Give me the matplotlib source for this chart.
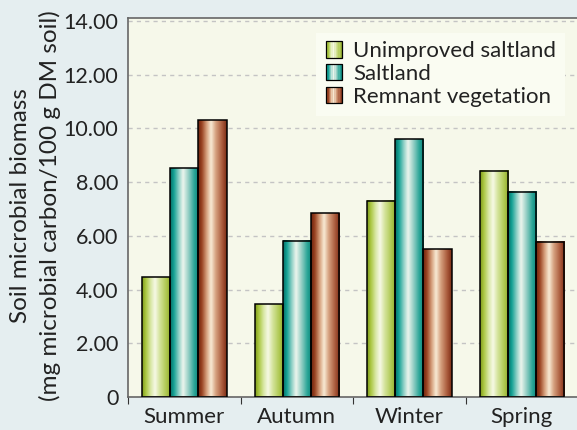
import numpy as np
import matplotlib
matplotlib.use("Agg")
from matplotlib import pyplot as plt
from matplotlib.colors import LinearSegmentedColormap
from matplotlib.patches import Rectangle
from matplotlib.legend_handler import HandlerBase

plt.rcParams["font.family"] = ["Lato", "DejaVu Sans"]

seasons = ["Summer", "Autumn", "Winter", "Spring"]
series = ["Unimproved saltland", "Saltland", "Remnant vegetation"]
unimproved = [4.46, 3.45, 7.31, 8.43]
saltland = [8.53, 5.82, 9.60, 7.65]
remnant = [10.31, 6.84, 5.50, 5.78]
yticks = [0, 2, 4, 6, 8, 10, 12, 14]
ytick_labels = ["0", "2.00", "4.00", "6.00", "8.00", "10.00", "12.00", "14.00"]

# cylinder-like shading: dark edge, light highlight left of centre
shades = {
    "Unimproved saltland": ["#7f9a1c", "#a9c63f", "#d9e8a6", "#f7f9e6", "#d3e39a", "#aec850", "#8ea82a"],
    "Saltland": ["#0b6e66", "#10a093", "#8fd0c6", "#eef6ee", "#9fd3c9", "#2aa597", "#0b857a"],
    "Remnant vegetation": ["#6e2410", "#98401f", "#d7a27f", "#f9ecd6", "#d5a07e", "#a8583a", "#7c2e16"],
}
stops = [0.0, 0.12, 0.3, 0.45, 0.62, 0.85, 1.0]
cmaps = {k: LinearSegmentedColormap.from_list(k, list(zip(stops, v))) for k, v in shades.items()}

fig = plt.figure(figsize=(5.77, 4.30), dpi=100)
fig.patch.set_facecolor("#e5eef0")
ax = fig.add_axes([0.222, 0.077, 0.78, 0.882])
ax.set_facecolor("#f6f8ea")

x = np.arange(len(seasons))
w = 0.25
grad = np.linspace(0, 1, 64).reshape(1, -1)
for i, (name, vals) in enumerate(zip(series, [unimproved, saltland, remnant])):
    xs = x + (i - 1) * w
    bars = ax.bar(xs, vals, w, facecolor="none", edgecolor="black", linewidth=1.1, zorder=3)
    for b in bars:
        bx, by = b.get_x(), b.get_y()
        bw, bh = b.get_width(), b.get_height()
        ax.imshow(grad, cmap=cmaps[name], aspect="auto", extent=(bx, bx + bw, by, by + bh),
                  zorder=2.5, interpolation="bicubic")

ax.set_xlim(-0.5, 3.5)
ax.set_ylim(0, 14.13)
ax.set_yticks(yticks)
ax.set_yticklabels(ytick_labels)
ax.yaxis.grid(True, linestyle=(0, (3, 3)), color="#c4c4c4", linewidth=1)
ax.set_axisbelow(True)
ax.tick_params(axis="y", length=0, pad=7, labelsize=15.5, labelcolor="#222222")

ax.set_xticks(np.arange(-0.5, 3.6, 1))
ax.set_xticklabels([])
ax.set_xticks(x, minor=True)
ax.set_xticklabels(seasons, minor=True)
ax.tick_params(axis="x", which="major", length=5, direction="out", color="#333333")
ax.tick_params(axis="x", which="minor", length=0, pad=7, labelsize=16, labelcolor="#222222")

for s in ["left", "bottom", "top"]:
    ax.spines[s].set_color("#666666")
    ax.spines[s].set_linewidth(1.2)
ax.spines["right"].set_visible(False)

fig.text(0.035, 0.522, "Soil microbial biomass", rotation=90, ha="center", va="center",
         fontsize=17.5, color="#222222")
fig.text(0.087, 0.522, "(mg microbial carbon/100 g DM soil)", rotation=90, ha="center", va="center",
         fontsize=17.5, color="#222222")


class GradHandler(HandlerBase):
    def __init__(self, cmap):
        super().__init__()
        self.cmap = cmap

    def create_artists(self, legend, orig, xd, yd, width, height, fontsize, trans):
        side = min(width, height) * 1.05
        x0 = xd + width - side - 2
        y0 = yd + (height - side) / 2
        n = 12
        arts = []
        for k in range(n):
            arts.append(Rectangle((x0 + k * side / n, y0), side / n + 0.3, side,
                                  facecolor=self.cmap((k + 0.5) / n), edgecolor="none", transform=trans))
        arts.append(Rectangle((x0, y0), side, side, facecolor="none", edgecolor="black",
                              linewidth=0.9, transform=trans))
        return arts


handles = [Rectangle((0, 0), 1, 1) for _ in series]
leg = ax.legend(handles, series, loc="upper right", bbox_to_anchor=(0.995, 0.99), fontsize=16,
                frameon=True, fancybox=False, framealpha=1, handlelength=0.9, handletextpad=0.35,
                labelspacing=0.12, borderpad=0.4,
                handler_map={h: GradHandler(cmaps[n]) for h, n in zip(handles, series)})
leg.get_frame().set_facecolor("#fafcf2")
leg.get_frame().set_edgecolor("none")
for t in leg.get_texts():
    t.set_color("#222222")

fig.savefig("out.png", dpi=100, facecolor=fig.get_facecolor())
